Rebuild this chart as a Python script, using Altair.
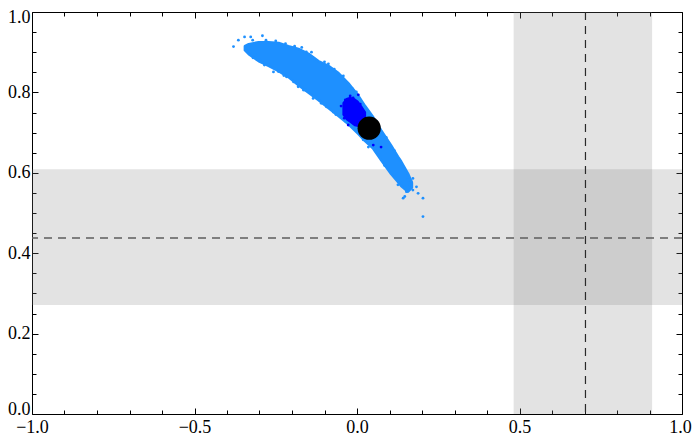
import altair as alt
import pandas as pd

# ---- data ----
# light-blue cloud: outline as lower / upper edge at each x
cloud_x  = [-0.345, -0.333, -0.303, -0.272, -0.241, -0.211, -0.180, -0.149, -0.119, -0.088,
            -0.057, -0.027, 0.004, 0.025, 0.050, 0.074, 0.105, 0.126, 0.136, 0.157, 0.169]
cloud_lo = [0.905, 0.895, 0.878, 0.866, 0.853, 0.838, 0.818, 0.799, 0.781, 0.761,
            0.741, 0.721, 0.697, 0.679, 0.660, 0.632, 0.597, 0.577, 0.567, 0.553, 0.563]
cloud_hi = [0.915, 0.920, 0.925, 0.925, 0.923, 0.915, 0.908, 0.896, 0.878, 0.866,
            0.848, 0.823, 0.792, 0.766, 0.738, 0.706, 0.668, 0.640, 0.628, 0.598, 0.575]

# scattered light-blue points at the fringes
fringe_x = [-0.380, -0.365, -0.346, -0.327, -0.321, -0.291, -0.334, -0.329, -0.314, -0.299,
            -0.273, -0.242, -0.217, -0.192, -0.156, -0.131, -0.181, -0.135, -0.094, -0.088,
            -0.042, -0.002, -0.257, -0.165, -0.073, 0.019,
            0.137, 0.147, 0.157, 0.167, 0.152, 0.172, 0.183, 0.188, 0.203, 0.147,
            0.142, 0.203, 0.126, 0.162, 0.172,
            -0.280, -0.250, -0.220, -0.170, -0.140, -0.100, -0.070, -0.045, -0.015, 0.060,
            0.090, 0.115,
            -0.320, -0.285, -0.225, -0.195, -0.160, -0.110, -0.065, -0.035, 0.035, 0.085, 0.115]
fringe_y = [0.914, 0.930, 0.938, 0.938, 0.930, 0.941, 0.910, 0.901, 0.893, 0.881,
            0.869, 0.852, 0.839, 0.915, 0.901, 0.881, 0.814, 0.785, 0.764, 0.871,
            0.841, 0.801, 0.851, 0.806, 0.751, 0.682,
            0.574, 0.565, 0.582, 0.578, 0.553, 0.557, 0.565, 0.549, 0.537, 0.541,
            0.537, 0.491, 0.570, 0.570, 0.586,
            0.930, 0.928, 0.921, 0.912, 0.900, 0.876, 0.858, 0.840, 0.810, 0.728,
            0.688, 0.655,
            0.886, 0.868, 0.842, 0.826, 0.806, 0.773, 0.745, 0.728, 0.664, 0.618, 0.590]

# dark-blue core
dark_x  = [-0.045, -0.033, -0.021, -0.008, 0.004, 0.016, 0.028]
dark_lo = [0.744, 0.731, 0.724, 0.716, 0.714, 0.719, 0.726]
dark_hi = [0.774, 0.786, 0.789, 0.786, 0.779, 0.766, 0.751]

darkpt_x = [-0.049, -0.027, -0.012, 0.044, 0.074, 0.050, -0.036, -0.021, -0.039, 0.004, 0.010]
darkpt_y = [0.766, 0.719, 0.786, 0.689, 0.664, 0.669, 0.781, 0.791, 0.736, 0.794, 0.771]

best_x = [0.0375]
best_y = [0.711]

vband = [0.482, 0.908]
hband = [0.271, 0.609]
vline = [0.703]
hline = [0.438]

x_major = [-1.0, -0.5, 0.0, 0.5, 1.0]
x_minor = [-0.9, -0.8, -0.7, -0.6, -0.4, -0.3, -0.2, -0.1,
           0.1, 0.2, 0.3, 0.4, 0.6, 0.7, 0.8, 0.9]
y_major = [0.0, 0.2, 0.4, 0.6, 0.8, 1.0]
y_minor = [0.05, 0.1, 0.15, 0.25, 0.3, 0.35, 0.45, 0.5, 0.55,
           0.65, 0.7, 0.75, 0.85, 0.9, 0.95]

FONT = "Liberation Serif"
XS = alt.Scale(domain=[-1, 1], nice=False, zero=False)
YS = alt.Scale(domain=[0, 1], nice=False, zero=False)
BLUE = "#1e90ff"


def axis(orient, values, size, labels=False, pad=4, loff=0, **kw):
    return alt.Axis(orient=orient, values=values, tickSize=size, offset=-size,
                    domain=False, grid=False, labels=labels, title=None,
                    tickColor="black", tickWidth=1, format=".1f",
                    labelFont=FONT, labelFontSize=18, labelColor="black",
                    labelPadding=pad, labelFlush=False, labelOverlap=False,
                    labelBound=False,
                    labelOffset={"condition": {"test": "datum.value == 1", "value": loff},
                                 "value": 0}, **kw)


def X(field, ax=None):
    return alt.X(field, type="quantitative", scale=XS, axis=ax)


def Y(field, ax=None):
    return alt.Y(field, type="quantitative", scale=YS, axis=ax)


vb = alt.Chart(pd.DataFrame({"a": [vband[0]], "b": [vband[1]]})).mark_rect(
    color="#808080", opacity=0.22).encode(
    x=X("a", axis("bottom", x_major, 6, labels=True, pad=4, loff=-2)), x2="b")

hb = alt.Chart(pd.DataFrame({"a": [hband[0]], "b": [hband[1]]})).mark_rect(
    color="#808080", opacity=0.22).encode(
    y=Y("a", axis("left", y_major, 6, labels=True, pad=2, loff=5,
                  labelBaseline={"condition": {"test": "datum.value == 0",
                                               "value": "alphabetic"},
                                 "value": "middle"})), y2="b")

vl = alt.Chart(pd.DataFrame({"v": vline})).mark_rule(
    color="#2a2a2a", strokeWidth=1.2, strokeDash=[8, 6]).encode(
    x=X("v", axis("bottom", x_minor, 4)))

hl = alt.Chart(pd.DataFrame({"v": hline})).mark_rule(
    color="#5e5e5e", strokeWidth=1.5, strokeDash=[8, 6]).encode(
    y=Y("v", axis("left", y_minor, 4)))

cloud = alt.Chart(pd.DataFrame({"x": cloud_x, "lo": cloud_lo, "hi": cloud_hi})).mark_area(
    color=BLUE, opacity=1, stroke=BLUE, strokeWidth=2.5, strokeJoin="round").encode(
    x=X("x", axis("top", x_major, 6)),
    y=Y("lo", axis("right", y_major, 6)), y2="hi")

fringe = alt.Chart(pd.DataFrame({"x": fringe_x, "y": fringe_y})).mark_circle(
    color=BLUE, size=8, opacity=1).encode(
    x=X("x", axis("top", x_minor, 4)),
    y=Y("y", axis("right", y_minor, 4)))

dark = alt.Chart(pd.DataFrame({"x": dark_x, "lo": dark_lo, "hi": dark_hi})).mark_area(
    color="#0000ff", opacity=1).encode(
    x=X("x", None), y=Y("lo", None), y2="hi")

darkp = alt.Chart(pd.DataFrame({"x": darkpt_x, "y": darkpt_y})).mark_circle(
    color="#0000ff", size=8, opacity=1).encode(
    x=X("x", None), y=Y("y", None))

best = alt.Chart(pd.DataFrame({"x": best_x, "y": best_y})).mark_circle(
    color="black", size=540, opacity=1).encode(
    x=X("x", None), y=Y("y", None))

chart = alt.layer(vb, hb, vl, hl, cloud, fringe, dark, darkp, best).resolve_axis(
    x="independent", y="independent"
).properties(
    width=650, height=402,
    autosize=alt.AutoSizeParams(type="none"),
    padding={"left": 24, "top": 4, "right": 10, "bottom": 25},
).configure_view(stroke="black", strokeWidth=1)

chart.save("out.html", embed_options={"renderer": "svg", "actions": False})
